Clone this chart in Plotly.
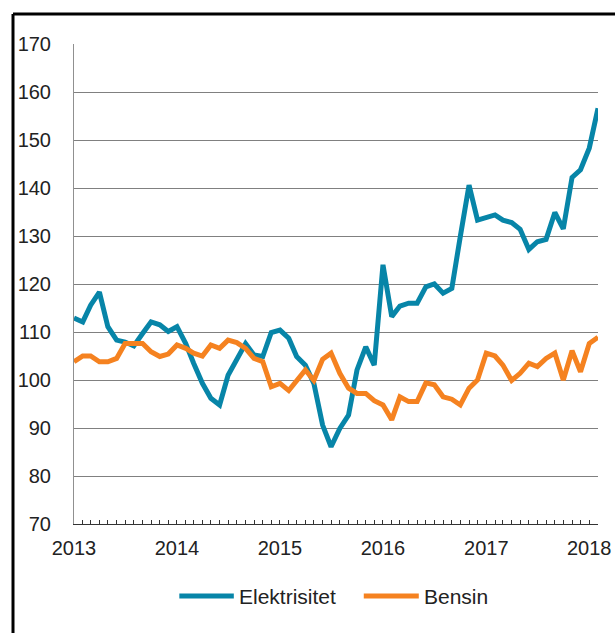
import pandas as pd
import plotly.graph_objects as go

months = pd.date_range("2013-01-01", periods=62, freq="MS")

elektrisitet = [
    112.9, 112.1, 115.6, 118.3, 111.1, 108.3, 107.9, 107.1, 109.7, 112.1, 111.5, 110.1,
    111.1, 107.6, 103.5, 99.3, 96.2, 94.8, 101.0, 104.5, 107.6, 105.2, 104.9, 109.9,
    110.4, 108.7, 104.9, 103.1, 99.3, 90.6, 86.1, 89.9, 92.7, 102.1, 106.9, 103.1,
    124.0, 113.2, 115.4, 116.0, 116.0, 119.4, 120.0, 118.1, 119.1, 129.9, 140.6, 133.3,
    133.8, 134.4, 133.3, 132.8, 131.4, 127.2, 128.8, 129.3, 134.9, 131.5, 142.2, 143.8,
    148.3, 156.6,
]

bensin = [
    103.8, 105.0, 105.0, 103.8, 103.8, 104.5, 107.6, 107.6, 107.6, 105.9, 104.9, 105.4,
    107.3, 106.6, 105.6, 105.0, 107.3, 106.6, 108.3, 107.8, 106.6, 104.5, 103.8, 98.6,
    99.3, 97.8, 100.0, 102.1, 99.9, 104.3, 105.6, 101.4, 98.3, 97.2, 97.2, 95.7,
    94.8, 91.7, 96.5, 95.5, 95.5, 99.4, 99.0, 96.5, 96.0, 94.8, 98.3, 100.0,
    105.6, 105.0, 103.1, 99.9, 101.4, 103.5, 102.8, 104.5, 105.6, 100.0, 106.1, 101.7,
    107.6, 108.9,
]

series_names = ["Elektrisitet", "Bensin"]
colors = ["#0785a8", "#f58220"]

fig = go.Figure()
for name, vals, col in zip(series_names, [elektrisitet, bensin], colors):
    fig.add_trace(go.Scatter(x=months, y=vals, mode="lines", name=name,
                             line=dict(color=col, width=5), showlegend=False,
                             hoverinfo="skip"))

font_family = "Liberation Sans, Arial, sans-serif"

# custom legend (paper coordinates)
legend_y = -0.15
legend_items = [(0.201, 0.305, 0.312), (0.553, 0.658, 0.665)]
shapes = [
    dict(type="line", xref="paper", yref="paper", x0=-0.1164, x1=-0.1164, y0=-0.24, y1=1.0625,
         line=dict(color="black", width=3)),
    dict(type="line", xref="paper", yref="paper", x0=-0.1164, x1=1.04, y0=1.0625, y1=1.0625,
         line=dict(color="black", width=3)),
]
annotations = []
for (x0, x1, xt), name, col in zip(legend_items, series_names, colors):
    shapes.append(dict(type="line", xref="paper", yref="paper", x0=x0, x1=x1,
                       y0=legend_y, y1=legend_y, line=dict(color=col, width=5)))
    annotations.append(dict(xref="paper", yref="paper", x=xt, y=legend_y, text=name,
                            showarrow=False, xanchor="left", yanchor="middle",
                            font=dict(size=21, color="#222222", family=font_family)))

fig.update_layout(
    width=615, height=633, autosize=False,
    margin=dict(l=74, r=17, t=44, b=109, autoexpand=False),
    paper_bgcolor="white", plot_bgcolor="white",
    font=dict(family=font_family, size=20, color="#222222"),
    showlegend=False,
    hovermode=False,
    xaxis=dict(
        type="date", automargin=False,
        range=[months[0], months[-1]],
        dtick="M12", tick0="2013-01-01", tickformat="%Y",
        ticks="inside", ticklen=4, tickcolor="#333333", tickwidth=1,
        minor=dict(dtick="M1", ticks="inside", ticklen=4, tickcolor="#333333", tickwidth=1, showgrid=False),
        showgrid=False, showline=True, linecolor="#333333", linewidth=1,
        ticklabelstandoff=6, zeroline=False,
    ),
    yaxis=dict(
        automargin=False,
        range=[70, 170], dtick=10, tick0=70,
        showgrid=True, gridcolor="#808080", gridwidth=1,
        showline=True, linecolor="#909090", linewidth=1,
        ticks="", ticklabelstandoff=18, zeroline=False,
    ),
    shapes=shapes,
    annotations=annotations,
)

fig.write_html(
    "out.html",
    config={"displayModeBar": False, "responsive": False},
    post_script="document.body.style.margin='0';document.body.style.padding='0';document.body.style.overflow='hidden';document.documentElement.style.overflow='hidden';",
)
